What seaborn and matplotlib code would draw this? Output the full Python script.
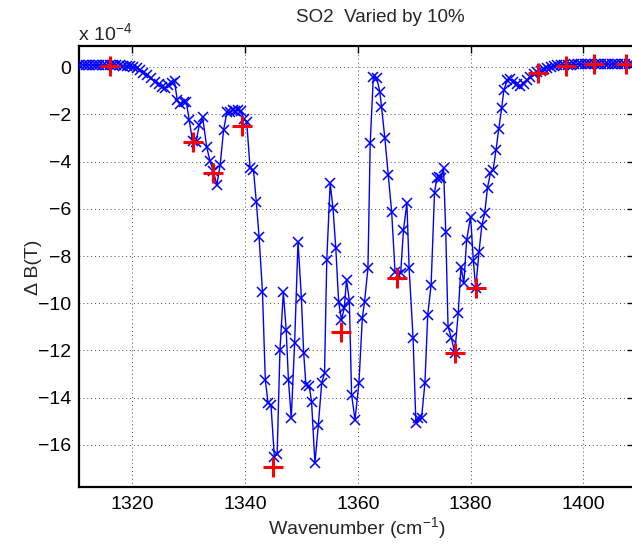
import matplotlib
matplotlib.use("Agg")
import matplotlib.pyplot as plt
import seaborn as sns
import pandas as pd

# Blue series: wavenumber (cm^-1) and Delta B(T) in units of 1e-4
wavenumber = [
    1310.6, 1311.2, 1311.8, 1312.4, 1313.0, 1313.6, 1314.2, 1314.8, 1315.4, 1316.0,
    1316.6, 1317.2, 1317.8, 1318.4, 1319.0, 1319.6, 1320.2, 1320.8, 1321.4, 1322.0,
    1322.7, 1323.4, 1324.1, 1324.7, 1325.2, 1325.8, 1326.4, 1327.0, 1327.5, 1328.0,
    1328.5, 1329.1, 1329.6, 1330.1, 1330.7, 1331.3, 1331.9, 1332.5, 1333.2, 1333.8,
    1334.4, 1335.0, 1335.6, 1336.2, 1336.8, 1337.3, 1337.8, 1338.3, 1338.8, 1339.3,
    1339.8, 1340.3, 1340.9, 1341.5, 1342.0, 1342.5, 1343.1, 1343.6, 1344.1, 1344.6,
    1345.2, 1345.7, 1346.2, 1346.8, 1347.3, 1347.7, 1348.2, 1348.8, 1349.4, 1350.0,
    1350.4, 1350.8, 1351.4, 1351.8, 1352.4, 1353.0, 1353.6, 1354.1, 1354.5, 1355.1,
    1355.6, 1356.1, 1356.6, 1357.1, 1357.6, 1358.0, 1358.5, 1358.9, 1359.5, 1360.2,
    1360.8, 1361.2, 1361.8, 1362.2, 1362.75, 1363.35, 1363.9, 1364.2, 1364.8, 1365.4,
    1366.0, 1366.6, 1367.1, 1367.6, 1368.1, 1368.7, 1369.1, 1369.8, 1370.3, 1370.7,
    1371.3, 1371.9, 1372.4, 1373.0, 1373.6, 1374.0, 1374.4, 1374.7, 1375.2, 1375.6,
    1376.0, 1376.6, 1377.2, 1377.8, 1378.3, 1378.8, 1379.3, 1380.0, 1380.5, 1380.9,
    1381.5, 1382.0, 1382.5, 1383.0, 1383.5, 1384.0, 1384.5, 1385.0, 1385.5, 1385.9,
    1386.5, 1387.0, 1387.6, 1388.2, 1388.8, 1389.4, 1390.0, 1390.6, 1391.2, 1391.8,
    1392.4, 1393.0, 1393.6, 1394.2, 1394.8, 1395.4, 1396.0, 1396.6, 1397.2, 1397.8,
    1398.4, 1399.0, 1399.6, 1400.2, 1400.8, 1401.4, 1402.0, 1402.6, 1403.2, 1403.8,
    1404.4, 1405.0, 1405.6, 1406.2, 1406.8, 1407.4, 1408.0, 1408.6,
]
delta_bt = [
    0.10, 0.10, 0.09, 0.10, 0.10, 0.09, 0.10, 0.09, 0.09, 0.08,
    0.09, 0.08, 0.08, 0.07, 0.06, 0.05, 0.02, -0.04, -0.11, -0.23,
    -0.32, -0.47, -0.61, -0.72, -0.84, -0.89, -0.75, -0.65, -0.60, -1.40,
    -1.55, -1.45, -1.48, -2.23, -3.12, -3.18, -2.44, -2.12, -3.37, -3.98,
    -4.40, -4.99, -4.14, -2.66, -1.90, -1.90, -1.82, -1.86, -1.80, -1.85,
    -2.20, -2.30, -4.28, -4.35, -5.69, -7.20, -9.53, -13.25, -14.24, -14.30,
    -16.50, -16.40, -11.98, -9.53, -11.13, -13.25, -14.87, -11.69, -7.39, -9.79,
    -12.09, -13.46, -13.53, -14.17, -16.78, -15.16, -13.39, -12.97, -8.16, -4.92,
    -5.97, -7.67, -9.93, -10.71, -10.20, -9.01, -9.90, -13.88, -14.94, -13.39,
    -10.64, -9.93, -8.52, -3.22, -0.40, -0.45, -1.03, -1.67, -3.01, -4.57,
    -6.12, -8.66, -8.80, -8.73, -6.89, -5.76, -8.52, -11.48, -15.08, -14.87,
    -14.87, -13.39, -10.49, -9.22, -5.34, -4.70, -4.63, -4.70, -4.28, -7.00,
    -10.99, -11.48, -12.12, -10.42, -8.45, -9.15, -7.32, -6.33, -8.23, -9.36,
    -7.81, -6.68, -6.19, -5.10, -4.50, -4.35, -3.50, -2.60, -1.74, -0.96,
    -0.54, -0.50, -0.62, -0.72, -0.78, -0.70, -0.55, -0.42, -0.30, -0.22,
    -0.14, -0.08, -0.02, 0.03, 0.06, 0.09, 0.10, 0.10, 0.11, 0.11,
    0.12, 0.12, 0.12, 0.12, 0.13, 0.13, 0.13, 0.13, 0.13, 0.13,
    0.13, 0.14, 0.14, 0.14, 0.14, 0.14, 0.14, 0.14,
]

# Red "+" series
sel_wavenumber = [1316.0, 1330.7, 1334.4, 1339.5, 1345.0, 1357.0, 1367.0,
                  1377.2, 1380.9, 1392.0, 1396.9, 1401.9, 1407.5]
sel_delta_bt = [0.06, -3.18, -4.49, -2.49, -16.95, -11.23, -8.94,
                -12.12, -9.36, -0.25, 0.07, 0.13, 0.13]

x_ticks = [1320, 1340, 1360, 1380, 1400]
y_ticks = [0, -2, -4, -6, -8, -10, -12, -14, -16]

title_text = "SO2  Varied by 10%"
xlabel_text = r"Wavenumber (cm$^{-1}$)"
ylabel_text = "\u0394 B(T)"

sns.set_theme(style="white")
plt.rcParams["font.family"] = ["Liberation Sans", "DejaVu Sans"]
plt.rcParams["mathtext.fontset"] = "custom"
plt.rcParams["mathtext.rm"] = "Liberation Sans"
plt.rcParams["mathtext.it"] = "Liberation Sans"

FS = 14
W, H = 632, 546
fig = plt.figure(figsize=(W / 100, H / 100), dpi=100)
fig.patch.set_facecolor("white")
left_px, right_px, top_px, bot_px = 78.5, 634.0, 46.3, 486.7
ax = fig.add_axes([left_px / W, 1 - bot_px / H, (right_px - left_px) / W, (bot_px - top_px) / H])
ax.set_facecolor("white")

df = pd.DataFrame({"wn": wavenumber, "dbt": delta_bt})
dsel = pd.DataFrame({"wn": sel_wavenumber, "dbt": sel_delta_bt})

sns.lineplot(data=df, x="wn", y="dbt", ax=ax, sort=False, color="#0000ff",
             linewidth=1.0, marker="x", markersize=7.5, markeredgewidth=1.1,
             markeredgecolor="#0000ff", zorder=3)
sns.scatterplot(data=dsel, x="wn", y="dbt", ax=ax, marker="+", s=190,
                color="#ff0000", linewidth=2.2, zorder=4)

px_per_unit_x = 5.64
y0_px, px_per_unit_y = 67.3, 23.59
ax.set_xlim(1340 + (left_px - 245) / px_per_unit_x, 1340 + (right_px - 245) / px_per_unit_x)
ax.set_ylim((y0_px - bot_px) / px_per_unit_y, (y0_px - top_px) / px_per_unit_y)
ax.set_xticks(x_ticks)
ax.set_yticks(y_ticks)
ax.tick_params(direction="in", length=5, width=1.0, labelsize=FS, top=True, right=True,
               colors="black")
ax.tick_params(axis="x", pad=7)
ax.tick_params(axis="y", pad=5)
for sp in ax.spines.values():
    sp.set_linewidth(1.6)
    sp.set_color("black")
ax.grid(True, color="black", linestyle=(0, (1, 3)), linewidth=0.7, alpha=0.7)
ax.set_xlabel("")
ax.set_ylabel("")

fig.text(380 / W, 1 - 18 / H, title_text, ha="center", va="center", fontsize=13.5)
fig.text(357 / W, 1 - 528 / H, xlabel_text, ha="center", va="center", fontsize=FS)
fig.text(33 / W, 1 - 267 / H, ylabel_text, ha="center", va="center", rotation=90, fontsize=FS)
ax.text(0.0, 1.006, r"x 10$^{-4}$", transform=ax.transAxes, ha="left", va="bottom", fontsize=FS)

fig.savefig("out.png", dpi=100)
